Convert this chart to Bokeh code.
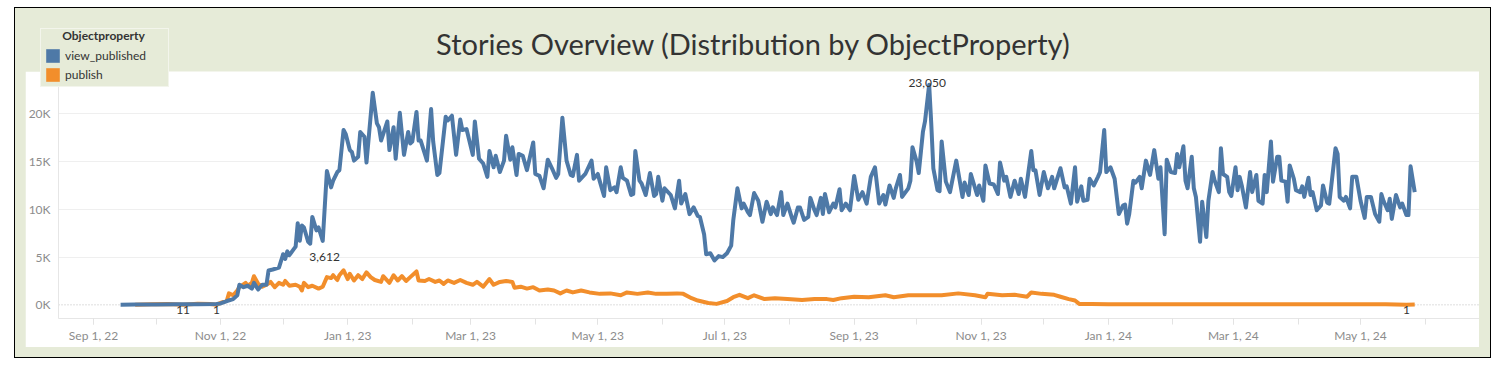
import numpy as np
import pandas as pd
from bokeh.plotting import figure
from bokeh.layouts import column
from bokeh.models import (Range1d, FixedTicker, DatetimeTickFormatter, CustomJSTickFormatter,
                          Legend, LegendItem, Label, Span)
from bokeh.embed import file_html
from bokeh.resources import INLINE
from bokeh.core.properties import value

# ---------------- data (day offsets from START, values in thousands) ----------------
START = pd.Timestamp("2022-09-01")

view_day = [13, 20, 30, 40, 50, 59, 61, 64, 67, 69,
            70, 72, 74, 76, 77, 79, 81, 83, 84, 86,
            89, 91, 92, 93, 94, 96, 97, 98, 99, 100,
            101, 103, 104, 105, 107, 108, 110, 112, 114, 115,
            117, 118, 120, 121, 123, 124, 125, 127, 128, 130,
            131, 134, 136, 137, 138, 141, 142, 144, 145, 147,
            149, 151, 152, 153, 155, 156, 157, 159, 160, 162,
            163, 165, 166, 169, 170, 172, 174, 176, 177, 179,
            182, 183, 185, 187, 189, 190, 192, 193, 195, 197,
            198, 200, 201, 203, 204, 206, 208, 211, 212, 214,
            216, 218, 220, 222, 223, 225, 227, 229, 230, 232,
            233, 236, 239, 240, 242, 243, 245, 246, 248, 250,
            251, 253, 254, 256, 258, 259, 260, 262, 263, 265,
            267, 269, 270, 271, 273, 274, 277, 279, 281, 282,
            284, 286, 288, 290, 291, 293, 294, 296, 298, 300,
            302, 304, 306, 307, 309, 311, 312, 314, 315, 317,
            319, 321, 323, 325, 326, 328, 330, 331, 333, 335,
            336, 338, 339, 341, 343, 344, 346, 347, 349, 350,
            351, 353, 355, 356, 358, 359, 361, 363, 365, 367,
            369, 371, 373, 375, 377, 379, 380, 382, 384, 385,
            387, 388, 391, 392, 393, 395, 396, 398, 399, 401,
            402, 403, 405, 406, 407, 409, 411, 414, 417, 418,
            420, 421, 424, 425, 427, 428, 430, 432, 434, 435,
            437, 438, 440, 442, 444, 445, 447, 450, 451, 452,
            454, 456, 458, 460, 461, 464, 466, 467, 469, 471,
            472, 474, 475, 477, 478, 480, 482, 483, 485, 486,
            488, 490, 492, 494, 495, 496, 497, 499, 500, 502,
            503, 505, 507, 509, 511, 512, 514, 515, 517, 519,
            520, 521, 523, 524, 525, 527, 528, 529, 531, 532,
            534, 535, 537, 538, 540, 541, 542, 544, 545, 546,
            548, 549, 550, 551, 553, 555, 556, 558, 559, 561,
            562, 563, 565, 566, 568, 569, 570, 572, 573, 574,
            576, 577, 579, 580, 581, 583, 584, 585, 587, 589,
            590, 592, 593, 596, 597, 598, 600, 601, 603, 604,
            606, 608, 610, 611, 613, 615, 617, 618, 619, 621,
            622, 623, 625, 627, 628, 630, 631, 632, 634]
view_k = [0.02, 0.03, 0.04, 0.05, 0.07, 0.1, 0.15, 0.4, 0.6, 1.0,
          2.1, 1.85, 2.0, 1.7, 2.3, 1.6, 2.1, 2.1, 3.6, 3.7,
          3.9, 5.3, 4.8, 5.6, 5.2, 5.8, 6.1, 8.55, 6.7, 8.3,
          8.1, 6.6, 6.4, 9.2, 7.8, 8.1, 6.7, 14.0, 12.3, 13.0,
          13.9, 14.1, 18.3, 17.9, 16.2, 16.0, 15.1, 15.5, 18.1, 17.6,
          14.9, 22.2, 19.0, 18.6, 17.2, 19.2, 16.2, 18.6, 15.3, 20.1,
          15.7, 18.1, 16.9, 17.1, 20.2, 17.2, 17.2, 15.8, 15.1, 20.5,
          17.1, 13.6, 13.8, 19.7, 19.3, 19.8, 15.7, 19.4, 18.3, 18.4,
          15.7, 19.2, 15.3, 14.8, 13.4, 16.1, 14.4, 15.6, 13.9, 15.1,
          17.7, 15.2, 16.5, 13.6, 15.8, 15.6, 14.1, 17.0, 13.7, 13.5,
          12.2, 15.2, 14.3, 13.3, 13.7, 19.6, 15.1, 13.6, 13.5, 15.7,
          13.0, 13.7, 15.1, 13.2, 13.7, 12.9, 11.4, 14.4, 12.0, 12.3,
          11.8, 14.4, 13.3, 13.0, 11.5, 11.6, 16.1, 13.0, 12.7, 11.5,
          13.8, 11.4, 11.6, 13.4, 10.9, 12.2, 11.5, 10.1, 13.0, 10.6,
          11.6, 9.5, 10.2, 9.3, 9.2, 7.4, 5.3, 5.4, 4.65, 5.1,
          5.0, 5.4, 6.2, 8.85, 12.2, 10.1, 10.6, 9.7, 9.4, 11.7,
          10.9, 8.7, 10.8, 9.5, 10.2, 9.4, 11.8, 9.4, 10.6, 9.2,
          8.6, 10.2, 10.2, 8.9, 9.2, 11.2, 9.9, 9.4, 11.2, 9.5,
          11.6, 9.7, 10.6, 10.2, 12.1, 9.9, 10.6, 9.9, 13.5, 11.0,
          11.8, 10.6, 13.4, 14.4, 10.6, 11.5, 10.5, 12.5, 11.2, 12.2,
          13.6, 11.3, 12.2, 13.0, 16.5, 15.0, 13.8, 18.1, 19.2, 23.05,
          19.0, 14.3, 12.0, 11.9, 17.1, 12.9, 11.8, 15.1, 11.3, 12.8,
          11.5, 13.7, 11.5, 12.5, 10.9, 14.6, 12.7, 12.6, 11.6, 14.9,
          13.0, 13.4, 11.3, 13.0, 11.6, 13.2, 11.3, 16.1, 14.1, 14.1,
          11.5, 13.9, 12.2, 13.4, 12.2, 14.3, 12.3, 12.4, 10.6, 14.4,
          10.8, 12.4, 10.9, 11.0, 13.2, 12.5, 13.4, 13.9, 18.3, 13.9,
          14.4, 13.2, 9.5, 10.4, 10.5, 8.5, 9.5, 13.0, 12.8, 13.4,
          12.2, 15.1, 13.6, 16.2, 13.2, 14.4, 7.4, 15.2, 13.9, 13.8,
          15.8, 14.4, 16.6, 13.0, 12.2, 15.5, 12.2, 11.3, 6.6, 10.8,
          7.1, 10.9, 13.9, 13.0, 11.8, 16.4, 13.7, 13.4, 11.8, 11.4,
          14.4, 12.0, 13.4, 12.5, 10.2, 13.9, 11.8, 13.6, 10.9, 10.6,
          13.6, 11.8, 17.1, 12.9, 15.5, 15.5, 13.0, 12.9, 10.8, 14.6,
          13.2, 12.0, 11.8, 12.4, 11.3, 13.3, 11.5, 11.8, 9.9, 10.4,
          12.5, 10.7, 10.6, 16.4, 15.8, 11.3, 10.9, 11.3, 10.1, 13.4,
          13.4, 10.9, 9.1, 11.3, 11.3, 9.5, 8.7, 11.6, 10.9, 9.9,
          11.1, 9.0, 11.5, 10.2, 10.6, 9.4, 9.4, 14.5, 11.8]

publish_day = [20, 28, 36, 43, 50, 56, 59, 61, 64, 65,
               67, 69, 70, 73, 74, 76, 77, 79, 81, 83,
               85, 87, 89, 91, 92, 94, 97, 99, 100, 101,
               103, 105, 108, 110, 112, 114, 115, 117, 118, 120,
               122, 123, 125, 127, 129, 131, 133, 135, 138, 139,
               142, 144, 146, 148, 150, 152, 155, 156, 159, 161,
               164, 166, 168, 170, 173, 176, 179, 182, 184, 187,
               190, 192, 195, 198, 201, 202, 205, 208, 211, 214,
               218, 221, 224, 227, 230, 234, 238, 243, 248, 253,
               256, 261, 266, 270, 275, 280, 283, 287, 290, 295,
               299, 304, 307, 310, 314, 317, 322, 327, 333, 340,
               346, 352, 355, 359, 365, 372, 380, 384, 391, 399,
               407, 415, 423, 428, 429, 436, 442, 448, 450, 455,
               461, 464, 468, 471, 473, 479, 487, 503, 520, 540,
               560, 580, 600, 620, 630, 634]
publish_k = [0.02, 0.05, 0.09, 0.011, 0.12, 0.08, 0.001, 0.2, 0.45, 1.2,
             1.0, 1.5, 1.85, 2.3, 2.0, 2.3, 3.0, 2.2, 1.9, 2.1,
             2.4, 1.85, 2.3, 2.1, 2.5, 2.0, 2.1, 1.9, 1.5, 2.3,
             1.85, 2.0, 1.7, 1.9, 2.9, 2.8, 3.1, 2.6, 3.1, 3.612,
             2.7, 3.25, 2.55, 3.1, 2.7, 3.4, 2.9, 2.6, 2.4, 3.0,
             2.3, 3.1, 2.55, 3.0, 2.5, 2.9, 3.5, 2.55, 2.5, 2.7,
             2.4, 2.55, 2.2, 2.55, 2.3, 2.6, 2.3, 2.1, 2.4, 1.9,
             2.7, 2.1, 2.4, 2.5, 2.4, 1.8, 1.9, 1.7, 1.85, 1.5,
             1.6, 1.5, 1.2, 1.5, 1.3, 1.5, 1.3, 1.15, 1.2, 1.0,
             1.3, 1.15, 1.3, 1.15, 1.15, 1.2, 1.15, 0.7, 0.45, 0.2,
             0.1, 0.4, 0.8, 1.05, 0.7, 1.0, 0.6, 0.7, 0.6, 0.5,
             0.6, 0.6, 0.5, 0.7, 0.85, 0.8, 1.0, 0.8, 1.0, 1.0,
             1.0, 1.2, 1.0, 0.8, 1.15, 1.0, 1.05, 0.85, 1.3, 1.15,
             1.05, 0.85, 0.6, 0.45, 0.1, 0.1, 0.05, 0.05, 0.06, 0.05,
             0.06, 0.05, 0.05, 0.05, 0.001, 0.04]

note_day = [43, 59, 630]
note_k = [0.011, 0.001, 0.001]
note_text = ["11", "1", "1"]

series_names = ["view_published", "publish"]
legend_title = "Objectproperty"
chart_title = "Stories Overview (Distribution by ObjectProperty)"

x_tick_dates = ["2022-09-01", "2022-11-01", "2023-01-01", "2023-03-01", "2023-05-01",
                "2023-07-01", "2023-09-01", "2023-11-01", "2024-01-01", "2024-03-01",
                "2024-05-01"]
y_ticks_k = [0, 5, 10, 15, 20]

assert len(view_day) == len(view_k)
assert len(publish_day) == len(publish_k)

# ---------------- styling ----------------
GREEN = "#E6EBD8"
BLUE = "#4E79A7"
ORANGE = "#F28E2B"
FONT = "Lato"
TXT = "#333333"
TICK_TXT = "#8C8C8C"
OVERLAY_CSS = {"position": "absolute", "left": "-35px", "top": "0px"}


def to_dates(days):
    return START + pd.to_timedelta(days, unit="D")


def to_ms(dates):
    idx = pd.DatetimeIndex(pd.to_datetime(dates))
    return [float(v) for v in (idx - pd.Timestamp("1970-01-01")) // pd.Timedelta("1ms")]


def overlay_figure():
    f = figure(width=1475, height=90, output_backend="svg", toolbar_location=None,
               x_axis_location=None, y_axis_location=None,
               min_border=0, min_border_left=0, min_border_right=0,
               min_border_top=0, min_border_bottom=0, outline_line_color=None,
               border_fill_alpha=0, background_fill_alpha=0, styles=dict(OVERLAY_CSS))
    f.xgrid.visible = False
    f.ygrid.visible = False
    return f


view_x = to_dates(view_day)
publish_x = to_dates(publish_day)

# ---------------- main plot (white panel) ----------------
p = figure(width=1454, height=276, x_axis_type="datetime",
           x_range=Range1d(pd.Timestamp("2022-08-15 05:00"), pd.Timestamp("2024-06-27 02:00")),
           y_range=Range1d(-1.43, 24.43),
           output_backend="svg", toolbar_location=None,
           min_border_left=31, min_border_right=0, min_border_top=0, min_border_bottom=29,
           border_fill_color="white", background_fill_color="white", outline_line_color=None,
           margin=(63, 11, 10, 10))

p.xaxis.ticker = FixedTicker(ticks=to_ms(x_tick_dates),
                             minor_ticks=to_ms(pd.date_range("2022-08-01", "2024-07-01", freq="MS")))
fmt = "%b %-d, %y"
p.xaxis.formatter = DatetimeTickFormatter(days=fmt, months=fmt, years=fmt)
p.xaxis.major_tick_in = 0
p.xaxis.major_tick_out = 6
p.xaxis.minor_tick_in = 0
p.xaxis.minor_tick_out = 6
p.xaxis.major_tick_line_color = "#E3E3E3"
p.xaxis.minor_tick_line_color = "#E3E3E3"
p.xaxis.axis_line_color = "#E6E6E6"
p.xaxis.major_label_standoff = 3
p.xaxis.major_label_text_font = FONT
p.xaxis.major_label_text_font_size = "12px"
p.xaxis.major_label_text_color = TICK_TXT

p.yaxis.ticker = FixedTicker(ticks=y_ticks_k)
p.yaxis.formatter = CustomJSTickFormatter(code="return tick + 'K';")
p.yaxis.major_tick_in = 0
p.yaxis.major_tick_out = 0
p.yaxis.minor_tick_in = 0
p.yaxis.minor_tick_out = 0
p.yaxis.major_tick_line_color = None
p.yaxis.minor_tick_line_color = None
p.yaxis.axis_line_color = "#E6E6E6"
p.yaxis.major_label_standoff = 8
p.yaxis.major_label_text_font = FONT
p.yaxis.major_label_text_font_size = "12px"
p.yaxis.major_label_text_color = TICK_TXT

p.xgrid.visible = False
p.ygrid.ticker = FixedTicker(ticks=[t for t in y_ticks_k if t != 0])
p.ygrid.grid_line_color = "#EFEFEF"

p.add_layout(Span(location=0, dimension="width", line_color="#BDBDBD", line_dash="1 2",
                  line_width=1, level="underlay"))

p.line(publish_x, publish_k, line_color=ORANGE, line_width=4, line_join="round")
p.line(view_x, view_k, line_color=BLUE, line_width=4, line_join="round")

ib = int(np.argmax(view_k))
p.text(x=[view_x[ib]], y=[view_k[ib]], text=[f"{round(view_k[ib] * 1000):,}"],
       text_align="center", text_baseline="middle", x_offset=-2, y_offset=-2,
       text_font=value(FONT), text_font_size="12px", text_color=TXT)
io = int(np.argmax(publish_k))
p.text(x=[publish_x[io]], y=[publish_k[io]], text=[f"{round(publish_k[io] * 1000):,}"],
       text_align="center", text_baseline="middle", x_offset=-19, y_offset=-13,
       text_font=value(FONT), text_font_size="12px", text_color=TXT)
p.text(x=to_dates(note_day), y=note_k, text=note_text,
       text_align="center", text_baseline="middle", y_offset=5,
       text_font=value(FONT), text_font_size="12px", text_color=TXT)

# ---------------- legend overlay on the green band ----------------
h = overlay_figure()
nan = [float("nan")]
sw_view = h.quad(left=nan, right=nan, top=nan, bottom=nan, fill_color=BLUE, line_color=None)
sw_pub = h.quad(left=nan, right=nan, top=nan, bottom=nan, fill_color=ORANGE, line_color=None)
legend = Legend(items=[LegendItem(label=series_names[0], renderers=[sw_view]),
                       LegendItem(label=series_names[1], renderers=[sw_pub])],
                title=" ", location=(27, 11), orientation="vertical",
                background_fill_color=GREEN, background_fill_alpha=1.0,
                border_line_color="white", border_line_width=1,
                padding=3, spacing=2, margin=0, glyph_width=17, glyph_height=17,
                label_standoff=4, label_height=14, label_width=100,
                label_text_font=FONT, label_text_font_size="12px", label_text_color=TXT,
                title_text_font=FONT, title_text_font_size="12px", title_text_font_style="bold",
                title_text_color=TXT, title_standoff=0)
h.add_layout(legend, "center")

# ---------------- text overlay (drawn above the legend) ----------------
t = overlay_figure()
t.add_layout(Label(x=90, y=63, x_units="screen", y_units="screen", text=legend_title,
                   text_align="center", text_baseline="middle",
                   text_font=FONT, text_font_size="12px", text_font_style="bold",
                   text_color=TXT))
t.add_layout(Label(x=740, y=55, x_units="screen", y_units="screen", text=chart_title,
                   text_align="center", text_baseline="middle",
                   text_font=FONT, text_font_size="29px", text_color=TXT))

layout = column(p, h, t, margin=(7, 0, 0, 14),
                styles={"position": "relative", "border": "1px solid #000000",
                        "background-color": GREEN})

open("out.html", "w").write(file_html(layout, INLINE))
